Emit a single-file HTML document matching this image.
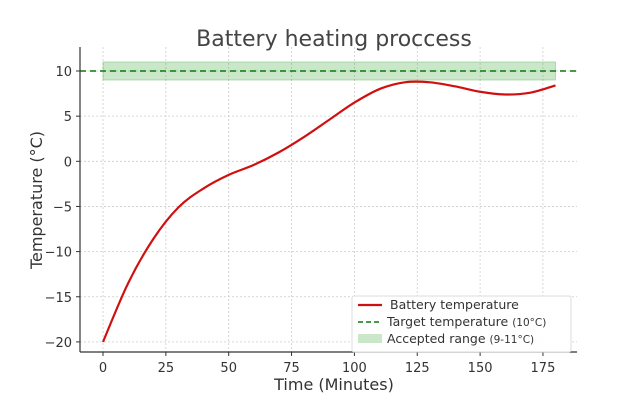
<!DOCTYPE html>
<html><head><meta charset="utf-8"><style>
body{margin:0;background:#fff}
svg text{font-family:"DejaVu Sans","Liberation Sans",sans-serif;fill:#333}
</style></head><body>
<svg width="640" height="400" viewBox="0 0 640 400">
<text x="334" y="46" text-anchor="middle" font-size="22" fill="#444" style="fill:#444">Battery heating proccess</text>
<g id="grid"></g>
<rect id="band" fill="#2ca02c" fill-opacity="0.25" stroke="#2ca02c" stroke-opacity="0.3"></rect>
<line id="target" stroke="#0a7a0a" stroke-width="1.6" stroke-dasharray="6,4"></line>
<path id="curve" fill="none" stroke="#d01010" stroke-width="2.2"></path>
<line x1="80" y1="47" x2="80" y2="352" stroke="#333" stroke-width="1.2"></line>
<line x1="80" y1="352" x2="577" y2="352" stroke="#333" stroke-width="1.2"></line>
<g id="ticks"></g>
<text x="334" y="390" text-anchor="middle" font-size="16">Time (Minutes)</text>
<text transform="translate(42,200) rotate(-90)" text-anchor="middle" font-size="16">Temperature (°C)</text>
<g>
<rect x="352" y="296" width="219" height="56" fill="#fff" fill-opacity="0.9" stroke="#ddd" rx="2"></rect>
<line x1="358" y1="305" x2="382" y2="305" stroke="#d01010" stroke-width="2.2"></line>
<text x="390" y="309" font-size="12.5">Battery temperature</text>
<line x1="358" y1="322" x2="382" y2="322" stroke="#0a7a0a" stroke-width="1.6" stroke-dasharray="5,3"></line>
<text x="387" y="326" font-size="12.5">Target temperature <tspan font-size="10.5">(10°C)</tspan></text>
<rect x="358" y="334" width="24" height="9" fill="#2ca02c" fill-opacity="0.25"></rect>
<text x="387" y="343" font-size="12.5">Accepted range <tspan font-size="10.5">(9-11°C)</tspan></text>
</g>
</svg>
<script>
const times=[0,10,20,30,40,50,60,70,80,90,100,110,120,130,140,150,160,170,180];
const temps=[-20,-13.5,-8.6,-5.1,-3,-1.5,-0.4,1,2.7,4.6,6.5,8,8.75,8.75,8.3,7.7,7.4,7.6,8.4];
const xTicks=[0,25,50,75,100,125,150,175];
const yTicks=[-20,-15,-10,-5,0,5,10];
const target=10, rangeLo=9, rangeHi=11;
const ns="http://www.w3.org/2000/svg";
const X=v=>103+v*2.514, Y=v=>161.3-v*9.03;
const grid=document.getElementById('grid'),ticks=document.getElementById('ticks');
function mk(tag,attrs,parent){const e=document.createElementNS(ns,tag);for(const k in attrs)e.setAttribute(k,attrs[k]);parent.appendChild(e);return e;}
xTicks.forEach(t=>{
 const g=mk('line',{x1:X(t),x2:X(t),y1:47,y2:352,stroke:'#ccc','stroke-dasharray':'2,2','stroke-width':0.8},grid);
 
 
 const tk=mk('line',{x1:X(t),x2:X(t),y1:352,y2:356,stroke:'#333'},ticks);
 
 
 const l=mk('text',{x:X(t),y:372,'text-anchor':'middle','font-size':13},ticks);l.textContent=t;
 
 
});
yTicks.forEach(t=>{
 const g=mk('line',{x1:80,x2:577,y1:Y(t),y2:Y(t),stroke:'#ccc','stroke-dasharray':'2,2','stroke-width':0.8},grid);
 
 
 const tk=mk('line',{x1:76,x2:80,y1:Y(t),y2:Y(t),stroke:'#333'},ticks);
 
 
 const l=mk('text',{x:72,y:Y(t)+5,'text-anchor':'end','font-size':13},ticks);l.textContent=(t<0?'\u2212'+(-t):t);
 
 
});
const band=document.getElementById('band');
band.setAttribute('x',X(0));band.setAttribute('width',X(180)-X(0));
band.setAttribute('y',Y(rangeHi));band.setAttribute('height',Y(rangeLo)-Y(rangeHi));
const tl=document.getElementById('target');
tl.setAttribute('x1',80);tl.setAttribute('x2',577);tl.setAttribute('y1',Y(target));tl.setAttribute('y2',Y(target));
const P=times.map((t,i)=>[X(t),Y(temps[i])]);
let d='M'+P[0].join(',');
for(let i=0;i<P.length-1;i++){
 const p0=P[i-1]||P[i],p1=P[i],p2=P[i+1],p3=P[i+2]||P[i+1];
 const c1=[p1[0]+(p2[0]-p0[0])/6,p1[1]+(p2[1]-p0[1])/6];
 const c2=[p2[0]-(p3[0]-p1[0])/6,p2[1]-(p3[1]-p1[1])/6];
 d+=' C'+c1.join(',')+' '+c2.join(',')+' '+p2.join(',');
}
document.getElementById('curve').setAttribute('d',d);
</script>
</body></html>
